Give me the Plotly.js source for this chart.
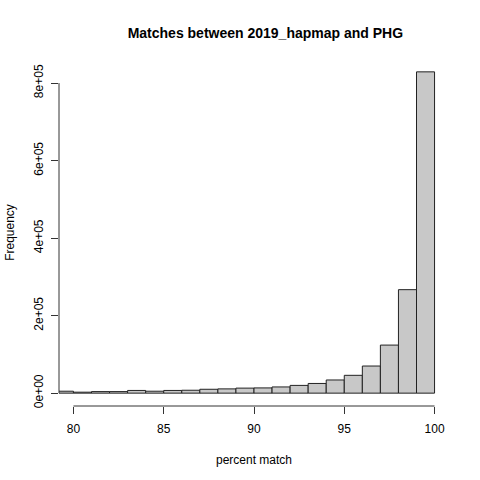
<!DOCTYPE html>
<html>
<head>
<meta charset="utf-8">
<script src="https://cdn.plot.ly/plotly-3.0.1.min.js"></script>
<style>
  body { margin: 0; background: #fff; }
  #plot { width: 480px; height: 480px; }
</style>
</head>
<body>
<div id="plot"></div>
<script>
// histogram bins (left edge of each 1% bin) and counts
const binStarts = [79, 80, 81, 82, 83, 84, 85, 86, 87, 88, 89, 90, 91, 92, 93, 94, 95, 96, 97, 98, 99]
const counts = [5000, 2500, 4000, 4000, 7000, 5000, 7000, 7500, 10000, 11000, 13000, 13500, 16000, 20000, 25000, 34000, 46000, 70000, 124000, 267000, 829000]
const binWidth = 1

const xTicks = [80, 85, 90, 95, 100]
const yTicks = [0, 200000, 400000, 600000, 800000]
const yTickText = ["0e+00", "2e+05", "4e+05", "6e+05", "8e+05"]

const font = "Liberation Sans, Arial, sans-serif"

let x = []
for (let i = 0; i < binStarts.length; i++) {
    x[i] = binStarts[i] + binWidth / 2
}

let trace = {
    x: x,
    y: counts,
    width: binWidth,
    type: 'bar',
    marker: {
        color: '#c8c8c8',
        line: {color: '#222', width: 1}
    },
    hoverinfo: 'x+y'
}

// R style padding: 4% of the range on each side
let xlo = xTicks[0], xhi = xTicks[xTicks.length - 1]
let xpad = (xhi - xlo) * 0.04
let ymax = Math.max(...counts)
let ypad = ymax * 0.04

let layout = {
    width: 480,
    height: 480,
    margin: {l: 59, r: 31, t: 59, b: 74},
    paper_bgcolor: '#fff',
    plot_bgcolor: '#fff',
    showlegend: false,
    bargap: 0,
    font: {family: font, size: 12, color: '#000'},
    title: {
        text: '<b>Matches between 2019_hapmap and PHG</b>',
        font: {family: font, size: 14, color: '#000'},
        x: 254 / 480, xanchor: 'center', xref: 'paper',
        y: 1 - 33 / 480, yanchor: 'middle', yref: 'container'
    },
    xaxis: {
        range: [xlo - xpad, xhi + xpad],
        tickvals: xTicks,
        ticktext: xTicks.map(String),
        ticks: 'outside',
        ticklen: 7,
        tickcolor: '#333',
        ticklabelstandoff: 5,
        showline: false,
        showgrid: false,
        zeroline: false,
        tickfont: {family: font, size: 12, color: '#000'},
        title: {text: 'percent match', standoff: 20, font: {family: font, size: 12, color: '#000'}}
    },
    yaxis: {
        range: [-ypad, ymax + ypad],
        tickvals: yTicks,
        ticktext: yTickText,
        tickangle: -90,
        ticks: 'outside',
        ticklen: 7,
        tickcolor: '#333',
        ticklabelstandoff: 3,
        showline: false,
        showgrid: false,
        zeroline: false,
        tickfont: {family: font, size: 12, color: '#000'},
        title: {text: 'Frequency', standoff: 15, font: {family: font, size: 12, color: '#000'}}
    },
    // axis lines only span the tick range, like R's axis()
    shapes: [
        {type: 'line', xref: 'x', yref: 'paper', x0: xlo, x1: xhi, y0: 0, y1: 0,
         line: {color: '#333', width: 1}},
        {type: 'line', xref: 'paper', yref: 'y', x0: 0, x1: 0,
         y0: yTicks[0], y1: yTicks[yTicks.length - 1], line: {color: '#333', width: 1}}
    ]
}

Plotly.newPlot('plot', [trace], layout, {displayModeBar: false, staticPlot: true})
</script>
</body>
</html>
